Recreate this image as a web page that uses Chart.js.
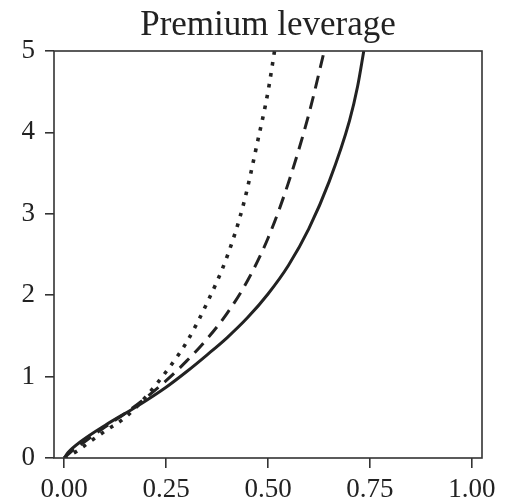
<!DOCTYPE html>
<html>
<head>
<meta charset="utf-8">
<script src="https://cdn.jsdelivr.net/npm/chart.js@4/dist/chart.umd.min.js"></script>
<style>
html,body{margin:0;padding:0;background:#fff;}
#c{display:block;}
</style>
</head>
<body>
<canvas id="c" width="505" height="502"></canvas>
<script>
const titleText = 'Premium leverage';
const xTicks = [0, 0.25, 0.5, 0.75, 1.0];
const yTicks = [0, 1, 2, 3, 4, 5];

const solidX = [0, 0.01, 0.04, 0.10, 0.18, 0.25, 0.30, 0.35, 0.40, 0.45, 0.50, 0.55, 0.60, 0.65, 0.70, 0.72, 0.735];
const solidY = [0, 0.07, 0.20, 0.40, 0.64, 0.87, 1.06, 1.265, 1.48, 1.725, 2.015, 2.365, 2.815, 3.395, 4.145, 4.57, 5.0];

const dashedX = [0, 0.02, 0.05, 0.10, 0.15, 0.20, 0.25, 0.30, 0.35, 0.40, 0.45, 0.50, 0.55, 0.60, 0.638];
const dashedY = [0, 0.09, 0.20, 0.38, 0.55, 0.74, 0.95, 1.19, 1.46, 1.78, 2.18, 2.70, 3.38, 4.22, 5.0];

const dottedX = [0, 0.03, 0.06, 0.10, 0.15, 0.20, 0.25, 0.30, 0.35, 0.40, 0.44, 0.475, 0.50, 0.516];
const dottedY = [0, 0.08, 0.19, 0.33, 0.50, 0.75, 1.06, 1.42, 1.90, 2.48, 3.12, 3.90, 4.50, 5.0];

const pts = (xs, ys) => xs.map((x, i) => ({x: x, y: ys[i]}));
const ink = '#222';
const axisInk = '#333';
const fontFam = "'Liberation Serif', 'Times New Roman', serif";

const boxPlugin = {
  id: 'box',
  afterLayout(chart) {
    const t = chart.titleBlock, a = chart.chartArea;
    if (t && a) { t.left = a.left; t.right = a.right; }
  },
  afterDatasetsDraw(chart) {
    const a = chart.chartArea, ctx = chart.ctx;
    ctx.save();
    ctx.strokeStyle = axisInk;
    ctx.lineWidth = 1.6;
    ctx.strokeRect(a.left, a.top, a.right - a.left, a.bottom - a.top);
    ctx.restore();
  }
};

new Chart(document.getElementById('c'), {
  type: 'scatter',
  data: {
    datasets: [
      {data: pts(solidX, solidY), showLine: true, borderColor: ink, borderWidth: 3, pointRadius: 0, cubicInterpolationMode: 'monotone', fill: false},
      {data: pts(dashedX, dashedY), showLine: true, borderColor: ink, borderWidth: 3, borderDash: [13, 8], pointRadius: 0, cubicInterpolationMode: 'monotone', fill: false},
      {data: pts(dottedX, dottedY), showLine: true, borderColor: ink, borderWidth: 3.6, borderDash: [3.6, 7.4], pointRadius: 0, cubicInterpolationMode: 'monotone', fill: false}
    ]
  },
  options: {
    responsive: false,
    animation: false,
    layout: {padding: {left: 0, right: 23, top: 0, bottom: 0}},
    plugins: {
      legend: {display: false},
      tooltip: {enabled: false},
      title: {display: true, text: titleText, color: ink, font: {family: fontFam, size: 35, weight: 'normal', lineHeight: 1.2}, padding: {top: 5, bottom: 4}}
    },
    scales: {
      x: {
        type: 'linear', min: -0.025, max: 1.025,
        afterBuildTicks: s => { s.ticks = xTicks.map(v => ({value: v})); },
        afterFit: s => { s.height = 44; },
        grid: {display: true, drawOnChartArea: false, drawTicks: true, tickLength: 10, color: axisInk, lineWidth: 1.6},
        border: {display: false},
        ticks: {color: ink, padding: 6, font: {family: fontFam, size: 27}, callback: v => Number(v).toFixed(2), maxRotation: 0, autoSkip: false}
      },
      y: {
        type: 'linear', min: 0, max: 5,
        afterBuildTicks: s => { s.ticks = yTicks.map(v => ({value: v})); },
        afterFit: s => { s.width = 54; },
        grid: {display: true, drawOnChartArea: false, drawTicks: true, tickLength: 9, color: axisInk, lineWidth: 1.6},
        border: {display: false},
        ticks: {color: ink, padding: 10, font: {family: fontFam, size: 27}, callback: v => String(v), autoSkip: false}
      }
    }
  },
  plugins: [boxPlugin]
});
</script>
</body>
</html>
